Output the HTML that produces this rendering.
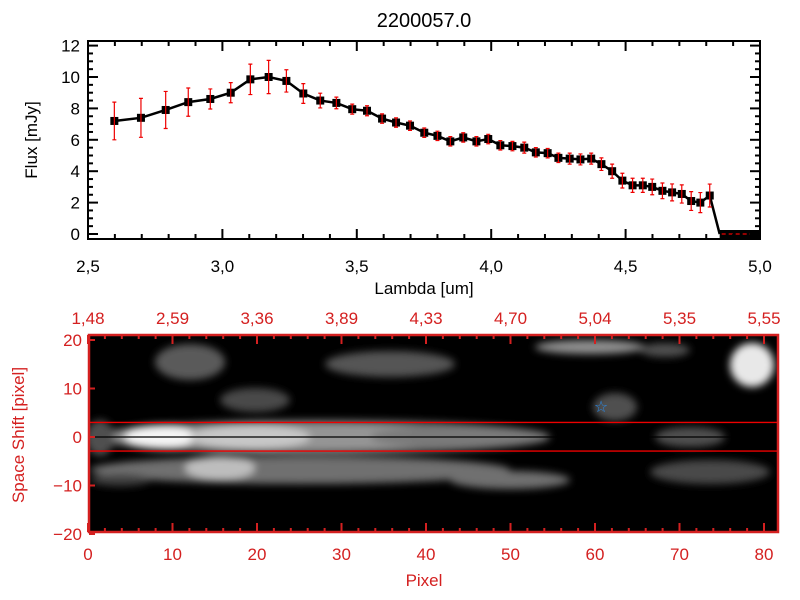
<!DOCTYPE html>
<html><head><meta charset="utf-8"><style>
body{margin:0;background:#fff;font-family:"Liberation Sans","DejaVu Sans",sans-serif}
svg{display:block}
</style></head><body>
<svg id="c" width="800" height="600" viewBox="0 0 800 600">
<defs>
<filter id="bl" x="-50%" y="-50%" width="200%" height="200%"><feGaussianBlur stdDeviation="4"/></filter>
<clipPath id="fc"><rect x="89" y="335" width="689" height="197"/></clipPath>
</defs>
<text x="424" y="27" text-anchor="middle" font-size="20">2200057.0</text>
<g id="topplot"></g>
<g id="botplot"></g>
</svg>
<script>
const lambda=[2.598,2.697,2.789,2.873,2.955,3.031,3.104,3.172,3.238,3.301,3.364,3.424,3.483,3.538,3.594,3.646,3.698,3.751,3.800,3.848,3.896,3.945,3.989,4.034,4.079,4.123,4.166,4.210,4.250,4.292,4.332,4.372,4.410,4.450,4.488,4.526,4.564,4.599,4.637,4.673,4.709,4.744,4.778,4.813];
const flux=[7.2,7.4,7.9,8.4,8.6,9.0,9.85,10.0,9.75,8.95,8.5,8.35,7.95,7.85,7.35,7.1,6.9,6.45,6.25,5.9,6.15,5.9,6.05,5.65,5.6,5.5,5.2,5.15,4.85,4.8,4.75,4.8,4.45,4.0,3.4,3.1,3.1,3.0,2.75,2.65,2.55,2.1,2.0,2.45];
const fluxErr=[1.2,1.24,1.18,0.9,0.64,0.64,0.97,1.06,0.71,0.63,0.47,0.37,0.32,0.32,0.3,0.3,0.3,0.3,0.3,0.3,0.3,0.3,0.3,0.3,0.3,0.35,0.3,0.3,0.3,0.35,0.35,0.35,0.4,0.45,0.47,0.45,0.45,0.5,0.5,0.54,0.58,0.6,0.64,0.73];
const xTicksTop=[2.5,3.0,3.5,4.0,4.5,5.0];
const yTicksTop=[0,2,4,6,8,10,12];
const pixTicks=[0,10,20,30,40,50,60,70,80];
const lamTicks=["1.48","2.59","3.36","3.89","4.33","4.70","5.04","5.35","5.55"];
const shiftTicks=[-20,-10,0,10,20];
const NS='http://www.w3.org/2000/svg';
function mk(p,t,a){const e=document.createElementNS(NS,t);for(const k in a)e.setAttribute(k,a[k]);p.appendChild(e);return e;}
const gTop=document.getElementById('topplot'),gBot=document.getElementById('botplot');
const X=v=>88+(v-2.5)*268.8, Y=v=>234-v*15.7;
const tl=88,tr=760,tt=41,tb=239;
let pts=lambda.map((l,i)=>X(l)+','+Y(flux[i])).join(' ');
pts+=' '+X(4.85)+','+Y(0);
const ln=mk(gTop,'polyline',{points:pts,fill:'none',stroke:'#000','stroke-width':2.5});


const zb=mk(gTop,'rect',{x:X(4.85),y:Y(0)-4,width:tr-X(4.85),height:8,fill:'#000'});


mk(gTop,'line',{x1:X(4.85)+2,y1:Y(0),x2:tr,y2:Y(0),stroke:'#e00','stroke-width':1.2,'stroke-dasharray':'4,3'});
lambda.forEach((l,i)=>{
 const x=X(l),y=Y(flux[i]);
 const m=mk(gTop,'rect',{x:x-4,y:y-4,width:8,height:8,fill:'#000'});
 
 
 const y1=Y(flux[i]+fluxErr[i]),y2=Y(flux[i]-fluxErr[i]);
 const eb=mk(gTop,'path',{d:`M${x},${y1}V${y2}M${x-2},${y1}H${x+2}M${x-2},${y2}H${x+2}`,stroke:'#e00','stroke-width':1.2,fill:'none'});
 
 
});
mk(gTop,'rect',{x:tl,y:tt,width:tr-tl,height:tb-tt,fill:'none',stroke:'#000','stroke-width':2});
for(let v=2.5;v<=5.001;v+=0.1){const x=X(v),mj=Math.abs(v*2-Math.round(v*2))<1e-6;const L=mj?10:5;
 mk(gTop,'line',{x1:x,y1:tb,x2:x,y2:tb-L,stroke:'#000','stroke-width':2});mk(gTop,'line',{x1:x,y1:tt,x2:x,y2:tt+L,stroke:'#000','stroke-width':2});}
for(let v=0;v<=12.01;v+=0.5){const y=Y(v),mj=Math.abs(v%2)<1e-6;const L=mj?10:5;
 mk(gTop,'line',{x1:tl,y1:y,x2:tl+L,y2:y,stroke:'#000','stroke-width':2});mk(gTop,'line',{x1:tr,y1:y,x2:tr-L,y2:y,stroke:'#000','stroke-width':2});}
xTicksTop.forEach(v=>{const t=mk(gTop,'text',{x:X(v),y:272,'text-anchor':'middle','font-size':17});t.textContent=v.toFixed(1).replace('.',',');
 
 });
yTicksTop.forEach(v=>{const t=mk(gTop,'text',{x:80,y:Y(v)+6,'text-anchor':'end','font-size':17});t.textContent=v;
 
 });
let t=mk(gTop,'text',{x:424,y:294,'text-anchor':'middle','font-size':17});t.textContent='Lambda [um]';


t=mk(gTop,'text',{x:0,y:0,'text-anchor':'middle','font-size':17,transform:'translate(37,140) rotate(-90)'});t.textContent='Flux [mJy]';


const bl=89,br=778,bt=335,bb=532;
const PX=v=>88+v*8.45, SY=v=>437-v*4.85;
const RED='#d42020';
mk(gBot,'rect',{x:bl,y:bt,width:br-bl,height:bb-bt,fill:'#000'});
const g=mk(gBot,'g',{'clip-path':'url(#fc)'});
const gb=mk(g,'g',{filter:'url(#bl)'});
const blobs=[[320,437,230,17,'#6a6a6a'],[300,437,190,13,'#959595'],[160,437,35,12,'#f4f4f4'],[250,437,60,12,'#c8c8c8'],[460,437,90,11,'#7a7a7a'],[300,470,210,14,'#707070'],[220,468,35,12,'#bdbdbd'],
[510,480,60,9,'#707070'],[710,472,60,12,'#4a4a4a'],[190,362,35,18,'#5a5a5a'],[390,364,65,13,'#555'],[590,347,55,7,'#909090'],[665,350,25,7,'#505050'],
[752,365,22,22,'#e8e8e8'],[255,400,35,12,'#4a4a4a'],[615,407,22,14,'#505050'],[690,437,35,10,'#505050'],[100,438,14,18,'#505050'],[120,480,30,6,'#404040']];
blobs.forEach(b=>{mk(gb,'ellipse',{cx:b[0],cy:b[1],rx:b[2],ry:b[3],fill:b[4]});});
mk(gBot,'line',{x1:bl,y1:SY(3),x2:br,y2:SY(3),stroke:'#e00','stroke-width':1.3});
mk(gBot,'line',{x1:bl,y1:SY(-2.9),x2:br,y2:SY(-2.9),stroke:'#e00','stroke-width':1.3});
mk(gBot,'line',{x1:bl,y1:SY(0),x2:br,y2:SY(0),stroke:'#000','stroke-width':1.2});
t=mk(gBot,'text',{x:601,y:412,'text-anchor':'middle','font-size':16,fill:'#2a8ae8'});t.textContent='☆';


mk(gBot,'rect',{x:bl,y:bt,width:br-bl,height:bb-bt,fill:'none',stroke:RED,'stroke-width':2.5});
for(let v=0;v<=81;v+=2){const x=PX(v),mj=v%10===0,L=mj?9:4;
 mk(gBot,'line',{x1:x,y1:bb,x2:x,y2:bb-L,stroke:RED,'stroke-width':2});mk(gBot,'line',{x1:x,y1:bt,x2:x,y2:bt+L,stroke:RED,'stroke-width':2});}
shiftTicks.forEach(v=>{mk(gBot,'line',{x1:bl,y1:SY(v),x2:bl+6,y2:SY(v),stroke:RED,'stroke-width':2});
 const s=mk(gBot,'text',{x:82,y:SY(v)+6,'text-anchor':'end','font-size':17,fill:RED});s.textContent=v<0?'\u2212'+(-v):v;
 
 });
pixTicks.forEach((v,i)=>{const s=mk(gBot,'text',{x:PX(v),y:560,'text-anchor':'middle','font-size':17,fill:RED});s.textContent=v;
 
 
 const u=mk(gBot,'text',{x:PX(v),y:324,'text-anchor':'middle','font-size':17,fill:RED});u.textContent=lamTicks[i].replace('.',',');
 
 });
t=mk(gBot,'text',{x:424,y:586,'text-anchor':'middle','font-size':17,fill:RED});t.textContent='Pixel';


t=mk(gBot,'text',{x:0,y:0,'text-anchor':'middle','font-size':17,fill:RED,transform:'translate(24,435) rotate(-90)'});t.textContent='Space Shift [pixel]';


</script>
</body></html>
